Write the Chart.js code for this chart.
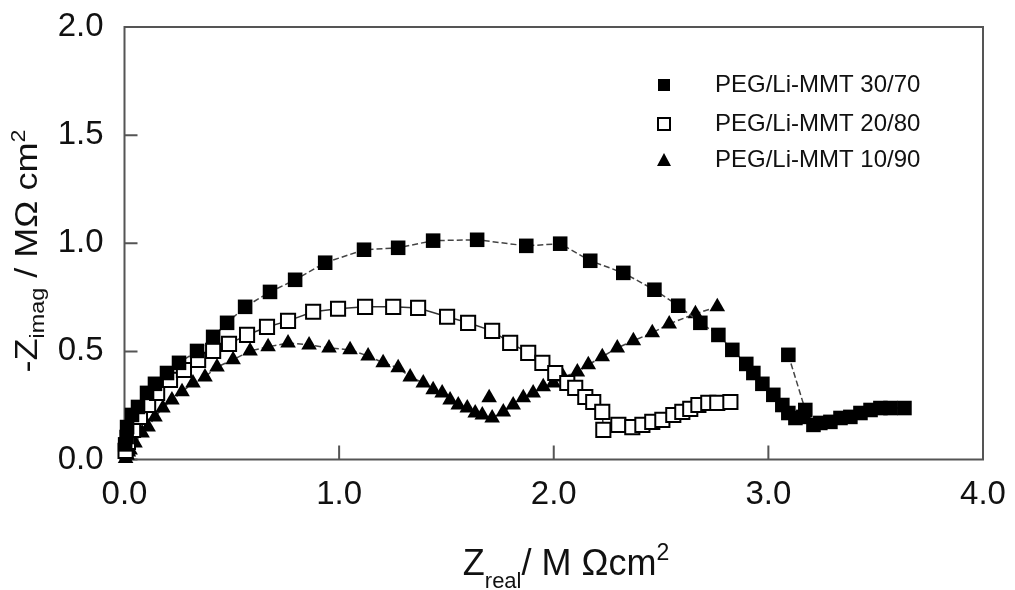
<!DOCTYPE html>
<html>
<head>
<meta charset="utf-8">
<script src="https://cdn.jsdelivr.net/npm/chart.js@4.4.1/dist/chart.umd.min.js"></script>
<style>
  html, body { margin: 0; padding: 0; background: #fff; }
</style>
</head>
<body>
<canvas id="nyquist" width="1015" height="590"></canvas>
<script>
// PEG/Li-MMT 30/70 (filled squares) - null breaks the line before the stray point
const peg30X = [0.003, 0.01, 0.012, 0.035, 0.063, 0.105, 0.142, 0.198, 0.254, 0.338, 0.413, 0.478, 0.562, 0.678, 0.795, 0.935,
  1.116, 1.275, 1.438, 1.643, 1.872, 2.030, 2.170, 2.324, 2.469, 2.580, 2.683, 2.767, 2.832, 2.897, 2.930, 2.972, 3.023, 3.065,
  3.093, 3.126, 3.163, 3.210, 3.242, 3.289, 3.336, 3.382, 3.429, 3.476, 3.522, 3.569, 3.634, 3.3, 3.093, 3.172];
const peg30Y = [0.07, 0.104, 0.150, 0.206, 0.243, 0.308, 0.350, 0.400, 0.447, 0.502, 0.567, 0.632, 0.706, 0.775, 0.831, 0.910,
  0.970, 0.979, 1.012, 1.016, 0.988, 0.998, 0.919, 0.863, 0.785, 0.711, 0.632, 0.576, 0.507, 0.442, 0.400, 0.350, 0.299, 0.252,
  0.215, 0.192, 0.197, 0.160, 0.169, 0.174, 0.192, 0.197, 0.215, 0.229, 0.238, 0.238, 0.238, null, 0.484, 0.229];

// PEG/Li-MMT 20/80 (open squares)
const peg20X = [0.005, 0.016, 0.040, 0.072, 0.110, 0.152, 0.212, 0.277, 0.343, 0.413, 0.487, 0.571, 0.664, 0.762, 0.879, 0.995,
  1.121, 1.252, 1.368, 1.503, 1.601, 1.713, 1.797, 1.881, 1.947, 2.007, 2.063, 2.100, 2.147, 2.184, 2.226, 2.231, 2.301, 2.366,
  2.413, 2.459, 2.506, 2.557, 2.599, 2.636, 2.674, 2.720, 2.762, 2.823];
const peg20Y = [0.04, 0.081, 0.137, 0.197, 0.252, 0.308, 0.368, 0.414, 0.461, 0.502, 0.535, 0.576, 0.613, 0.641, 0.683, 0.697,
  0.706, 0.706, 0.701, 0.660, 0.632, 0.595, 0.539, 0.493, 0.447, 0.400, 0.354, 0.331, 0.289, 0.266, 0.220, 0.137, 0.160, 0.150,
  0.160, 0.174, 0.183, 0.206, 0.220, 0.234, 0.252, 0.262, 0.262, 0.266];

// PEG/Li-MMT 10/90 (triangles)
const peg10X = [0.005, 0.012, 0.018, 0.026, 0.049, 0.082, 0.110, 0.142, 0.179, 0.221, 0.268, 0.319, 0.375, 0.431, 0.506, 0.585,
  0.669, 0.762, 0.860, 0.953, 1.051, 1.135, 1.205, 1.275, 1.331, 1.392, 1.438, 1.480, 1.517, 1.555, 1.597, 1.634, 1.667, 1.713,
  1.765, 1.811, 1.858, 1.904, 1.951, 1.998, 2.044, 2.110, 2.161, 2.226, 2.296, 2.371, 2.459, 2.538, 2.660, 2.762, 2.0, 1.699];
const peg10Y = [0.005, 0.02, 0.035, 0.044, 0.076, 0.123, 0.150, 0.197, 0.238, 0.275, 0.313, 0.354, 0.382, 0.428, 0.461, 0.502,
  0.521, 0.539, 0.530, 0.516, 0.507, 0.479, 0.447, 0.424, 0.382, 0.354, 0.322, 0.308, 0.275, 0.252, 0.238, 0.215, 0.206, 0.192,
  0.220, 0.252, 0.285, 0.308, 0.336, 0.354, 0.382, 0.405, 0.438, 0.475, 0.516, 0.549, 0.586, 0.627, 0.674, 0.706, null, 0.285];

const seriesNames = ["PEG/Li-MMT 30/70", "PEG/Li-MMT 20/80", "PEG/Li-MMT 10/90"];
const xTicks = [0, 1, 2, 3, 4];
const yTicks = [0, 0.5, 1, 1.5, 2];

const FONT = '"Liberation Sans", Arial, sans-serif';

function toPoints(xs, ys) {
  return xs.map((x, i) => ({ x: x, y: ys[i] }));
}

function richWidth(ctx, parts) {
  let w = 0;
  parts.forEach(p => {
    ctx.font = p.size + "px " + FONT;
    w += ctx.measureText(p.t).width;
  });
  return w;
}

function richText(ctx, parts, x, y) {
  parts.forEach(p => {
    ctx.font = p.size + "px " + FONT;
    ctx.fillText(p.t, x, y + p.dy);
    x += ctx.measureText(p.t).width;
  });
}

// box + inward ticks
const framePlugin = {
  id: "frame",
  beforeDatasetsDraw(chart) {
    const ctx = chart.ctx;
    const a = chart.chartArea;
    const xs = chart.scales.x, ys = chart.scales.y;
    ctx.save();
    ctx.strokeStyle = "#555";
    ctx.lineWidth = 2;
    ctx.strokeRect(a.left, a.top, a.right - a.left, a.bottom - a.top);
    ctx.beginPath();
    xTicks.forEach(v => {
      const px = xs.getPixelForValue(v);
      ctx.moveTo(px, a.bottom);
      ctx.lineTo(px, a.bottom - 14);
    });
    yTicks.forEach(v => {
      const py = ys.getPixelForValue(v);
      ctx.moveTo(a.left, py);
      ctx.lineTo(a.left + 13, py);
    });
    ctx.stroke();
    ctx.restore();
  }
};

const labelsPlugin = {
  id: "labels",
  afterDraw(chart) {
    const ctx = chart.ctx;
    ctx.save();
    ctx.fillStyle = "#111";
    ctx.textBaseline = "alphabetic";
    ctx.textAlign = "left";

    // x title
    const xParts = [
      { t: "Z", size: 36, dy: 0 },
      { t: "real", size: 22, dy: 13 },
      { t: "/ M \u03A9cm", size: 36, dy: 0 },
      { t: "2", size: 23, dy: -15 }
    ];
    const xw = richWidth(ctx, xParts);
    richText(ctx, xParts, 566 - xw / 2, 575);

    // y title (rotated)
    const yParts = [
      { t: "-Z", size: 31, dy: 0 },
      { t: "imag", size: 20, dy: 7 },
      { t: " / M\u03A9 cm", size: 31, dy: 0 },
      { t: "2", size: 20, dy: -12 }
    ];
    const yw = richWidth(ctx, yParts);
    ctx.save();
    ctx.translate(37, 251);
    ctx.rotate(-Math.PI / 2);
    ctx.scale(243 / yw, 1);
    richText(ctx, yParts, -yw / 2, 0);
    ctx.restore();

    // legend
    const rows = [85, 124, 160];
    const mx = 664;
    ctx.font = "24px " + FONT;
    seriesNames.forEach((name, i) => {
      const cy = rows[i];
      ctx.fillStyle = "#000";
      ctx.strokeStyle = "#000";
      if (i === 0) {
        ctx.fillRect(mx - 6, cy - 6, 12, 12);
      } else if (i === 1) {
        ctx.lineWidth = 2;
        ctx.strokeRect(mx - 6, cy - 6, 12, 12);
      } else {
        ctx.beginPath();
        ctx.moveTo(mx, cy - 7);
        ctx.lineTo(mx + 7, cy + 6);
        ctx.lineTo(mx - 7, cy + 6);
        ctx.closePath();
        ctx.fill();
      }
      ctx.fillStyle = "#111";
      ctx.fillText(name, 715, cy + 7);
    });
    ctx.restore();
  }
};

new Chart(document.getElementById("nyquist"), {
  type: "scatter",
  data: {
    datasets: [
      {
        label: seriesNames[0],
        data: toPoints(peg30X, peg30Y),
        showLine: true,
        spanGaps: false,
        clip: false,
        borderColor: "#444",
        borderWidth: 1.5,
        borderDash: [6, 3],
        pointStyle: "rect",
        pointRadius: 10.3,
        pointBackgroundColor: "#000",
        pointBorderColor: "#000",
        pointBorderWidth: 0
      },
      {
        label: seriesNames[1],
        data: toPoints(peg20X, peg20Y),
        showLine: true,
        clip: false,
        borderColor: "#333",
        borderWidth: 1.5,
        pointStyle: "rect",
        pointRadius: 10,
        pointBackgroundColor: "#fff",
        pointBorderColor: "#000",
        pointBorderWidth: 2
      },
      {
        label: seriesNames[2],
        data: toPoints(peg10X, peg10Y),
        showLine: true,
        spanGaps: false,
        clip: false,
        borderColor: "#444",
        borderWidth: 1.5,
        borderDash: [6, 3],
        pointStyle: "triangle",
        pointRadius: 9,
        pointBackgroundColor: "#000",
        pointBorderColor: "#000",
        pointBorderWidth: 0
      }
    ]
  },
  options: {
    responsive: false,
    animation: false,
    devicePixelRatio: 1,
    layout: { autoPadding: false, padding: { left: 0, top: 27, right: 32, bottom: 0 } },
    plugins: {
      legend: { display: false },
      tooltip: { enabled: false }
    },
    scales: {
      x: {
        type: "linear",
        min: 0,
        max: 4,
        afterFit(scale) {
          scale.height = 130.5;
          scale.paddingLeft = 0;
          scale.paddingRight = 0;
        },
        afterBuildTicks(scale) { scale.ticks = xTicks.map(v => ({ value: v })); },
        grid: { display: false, drawTicks: false },
        border: { display: false },
        ticks: {
          padding: 16,
          color: "#111",
          font: { family: FONT, size: 33 },
          callback: v => v.toFixed(1)
        }
      },
      y: {
        type: "linear",
        min: 0,
        max: 2,
        afterFit(scale) {
          scale.width = 124.5;
          scale.paddingTop = 0;
          scale.paddingBottom = 0;
        },
        afterBuildTicks(scale) { scale.ticks = yTicks.map(v => ({ value: v })); },
        grid: { display: false, drawTicks: false },
        border: { display: false },
        ticks: {
          padding: 21,
          color: "#111",
          font: { family: FONT, size: 33 },
          callback: v => v.toFixed(1)
        }
      }
    }
  },
  plugins: [framePlugin, labelsPlugin]
});
</script>
</body>
</html>
